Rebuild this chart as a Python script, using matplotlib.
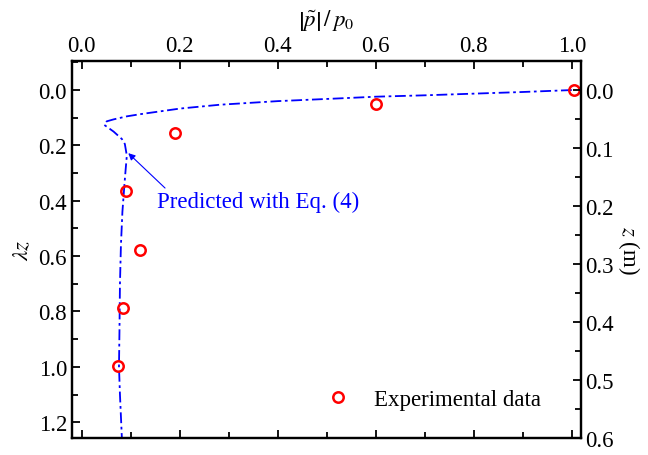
import numpy as np
import matplotlib
matplotlib.use("Agg")
import matplotlib.pyplot as plt
from matplotlib.ticker import MultipleLocator, FormatStrFormatter

plt.rcParams['font.family'] = ['Liberation Serif', 'DejaVu Serif']
plt.rcParams['mathtext.fontset'] = 'stix'

# experimental data: |p~|/p0 vs lambda*z
exp_p = [1.005, 0.601, 0.190, 0.091, 0.118, 0.085, 0.075]
exp_lz = [0.0, 0.05, 0.155, 0.365, 0.577, 0.787, 0.998]

# prediction with Eq. (4)
pred_p = [1.0, 0.9, 0.8, 0.7, 0.6, 0.527, 0.4, 0.282, 0.2, 0.16, 0.12, 0.092,
          0.065, 0.051, 0.046, 0.065, 0.082, 0.088, 0.092, 0.089, 0.087,
          0.083, 0.080, 0.078, 0.077, 0.076, 0.078, 0.082]
pred_lz = [0.0, 0.007, 0.013, 0.019, 0.024, 0.030, 0.040, 0.053, 0.067, 0.077,
           0.087, 0.095, 0.106, 0.113, 0.126, 0.150, 0.177, 0.195, 0.237, 0.30,
           0.345, 0.44, 0.56, 0.70, 0.87, 1.0, 1.1, 1.26]

lam = 2.097  # lambda z / z ratio between the two vertical scales
z_lim = (0.6, -0.0505)
fs = 16.5

fig = plt.figure(figsize=(6.48, 4.56), dpi=100)
ax = fig.add_axes([0.111, 0.0366, 0.785, 0.828])

ax.plot(pred_p, pred_lz, color='#0000ff', lw=1.3, ls=(0, (6, 2, 1.5, 2)))
ax.plot(exp_p, exp_lz, 'o', mfc='none', mec='#ff0000', mew=1.8, ms=7.5,
        ls='none', label='Experimental data')

ax.set_xlim(-0.02, 1.018)
ax.set_ylim(lam * z_lim[0], lam * z_lim[1])

ax.xaxis.set_major_locator(MultipleLocator(0.2))
ax.xaxis.set_minor_locator(MultipleLocator(0.1))
ax.yaxis.set_major_locator(MultipleLocator(0.2))
ax.yaxis.set_minor_locator(MultipleLocator(0.1))
ax.xaxis.set_ticks_position('both')
ax.xaxis.set_label_position('top')
ax.tick_params(axis='x', which='both', direction='in', labeltop=True,
               labelbottom=False, labelsize=fs)
ax.tick_params(axis='y', which='both', direction='in', labelsize=fs)
ax.tick_params(which='major', length=6, width=1.3)
ax.tick_params(which='minor', length=4, width=1.3)
ax.xaxis.set_major_formatter(FormatStrFormatter('%.1f'))
ax.yaxis.set_major_formatter(FormatStrFormatter('%.1f'))

ax.set_xlabel(r'$\left|\tilde{p}\right|\,/\,p_0$', fontsize=fs, labelpad=7)
ax.set_ylabel(r'$\lambda z$', fontsize=fs, labelpad=4)

ax2 = ax.twinx()
ax2.set_ylim(*z_lim)
ax2.yaxis.set_major_locator(MultipleLocator(0.1))
ax2.yaxis.set_minor_locator(MultipleLocator(0.05))
ax2.yaxis.set_major_formatter(FormatStrFormatter('%.1f'))
ax2.tick_params(axis='y', which='both', direction='in', labelsize=fs)
ax2.tick_params(which='major', length=6, width=1.3)
ax2.tick_params(which='minor', length=4, width=1.3)
ax2.set_ylabel(r'$z$ (m)', fontsize=fs, rotation=270, labelpad=20)

for a in (ax, ax2):
    for s in a.spines.values():
        s.set_linewidth(1.6)

ax.annotate('', xy=(0.095, 0.228), xytext=(0.17, 0.354),
            arrowprops=dict(arrowstyle='-|>', color='#0000ff', lw=0.8,
                            mutation_scale=10, shrinkA=0, shrinkB=0))
ax.text(0.153, 0.404, 'Predicted with Eq. (4)', color='#0000ff', fontsize=fs,
        va='center', ha='left')

ax.legend(loc='lower right', frameon=False, fontsize=fs, handlelength=1.6,
          handletextpad=0.75, bbox_to_anchor=(0.962, 0.02))

fig.savefig('out.png', dpi=100)
